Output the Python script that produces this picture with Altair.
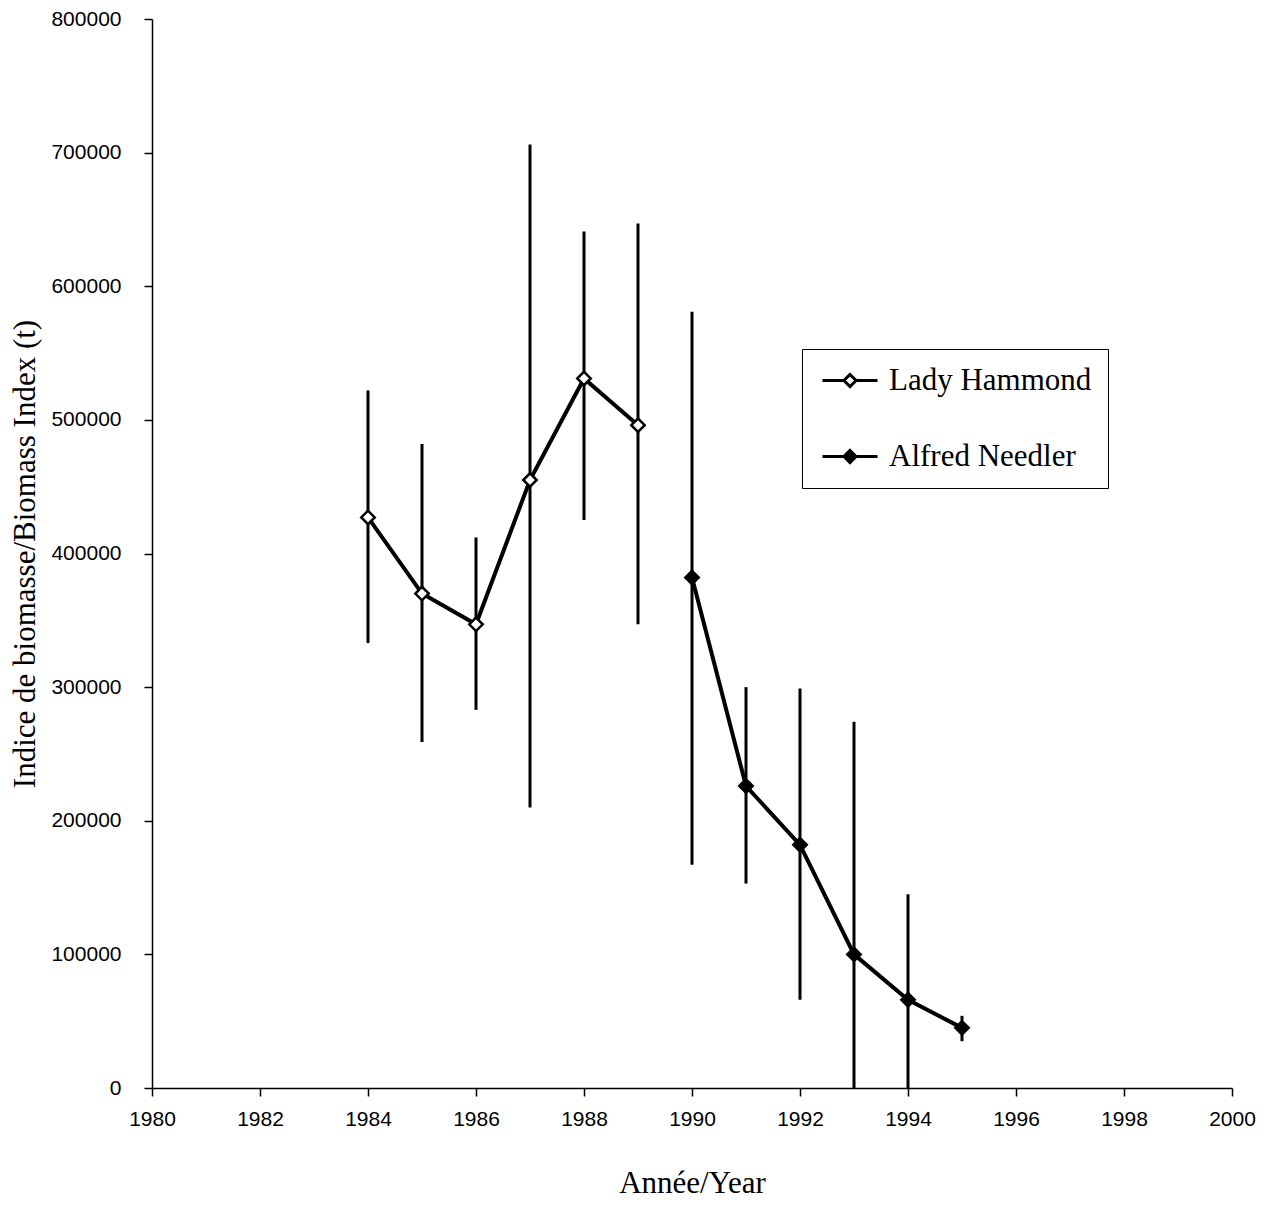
import altair as alt
import pandas as pd

series_names = ["Lady Hammond", "Alfred Needler"]

years_lh = [1984, 1985, 1986, 1987, 1988, 1989]
lh_index = [427000, 370000, 347000, 455000, 531000, 496000]
lh_low = [333000, 259000, 283000, 210000, 425000, 347000]
lh_high = [522000, 482000, 412000, 706000, 641000, 647000]

years_an = [1990, 1991, 1992, 1993, 1994, 1995]
an_index = [382000, 226000, 182000, 100000, 66000, 45000]
an_low = [167000, 153000, 66000, 0, 0, 35000]
an_high = [581000, 300000, 299000, 274000, 145000, 54000]

x_ticks = list(range(1980, 2001, 2))
y_ticks = list(range(0, 800001, 100000))

rows = []
for yr, v, lo, hi in zip(years_lh, lh_index, lh_low, lh_high):
    rows.append({"year": yr, "index": v, "lo": lo, "hi": hi, "series": series_names[0]})
for yr, v, lo, hi in zip(years_an, an_index, an_low, an_high):
    rows.append({"year": yr, "index": v, "lo": lo, "hi": hi, "series": series_names[1]})
df = pd.DataFrame(rows)

xscale = alt.Scale(domain=[1980, 2000], nice=False, zero=False)
yscale = alt.Scale(domain=[0, 800000], nice=False)

xaxis = alt.Axis(values=x_ticks, format="d", title="Année/Year", labelFlush=False,
                 labelOverlap=False, tickSize=8, labelPadding=12, titlePadding=39)
yaxis = alt.Axis(values=y_ticks, format="d", title="Indice de biomasse/Biomass Index (t)",
                 labelOverlap=False, tickSize=8, labelPadding=23, titlePadding=9)

base = alt.Chart(df)

bars = base.mark_rule(color="black", strokeWidth=3).encode(
    x=alt.X("year:Q", scale=xscale, axis=xaxis),
    y=alt.Y("lo:Q", scale=yscale, axis=yaxis),
    y2="hi:Q",
)

line = base.mark_line(color="black", strokeWidth=4).encode(
    x=alt.X("year:Q", scale=xscale),
    y=alt.Y("index:Q", scale=yscale),
    detail="series:N",
)

legend_path = "M-1,0H1M2,0H4M1.5,-0.55L2.05,0L1.5,0.55L0.95,0Z"

points = base.mark_point(shape="diamond", filled=True, size=180, stroke="black",
                         strokeWidth=2.5, opacity=1).encode(
    x=alt.X("year:Q", scale=xscale),
    y=alt.Y("index:Q", scale=yscale),
    fill=alt.Fill("series:N",
                  scale=alt.Scale(domain=series_names, range=["white", "black"]),
                  legend=alt.Legend(title=None, orient="none", legendX=650, legendY=330,
                                    symbolType=legend_path, symbolSize=484,
                                    symbolStrokeColor="black", symbolStrokeWidth=3,
                                    symbolOpacity=1,
                                    labelFont="Liberation Serif", labelFontSize=31,
                                    labelColor="black", labelOffset=40, rowPadding=44,
                                    labelLimit=400,
                                    padding=16, strokeColor="black", fillColor="white")),
)

chart = alt.layer(bars, line, points).properties(
    width=1080,
    height=1069,
    autosize=alt.AutoSizeParams(type="none"),
    padding={"left": 144, "top": 11, "right": 29, "bottom": 112},
).configure_view(stroke=None).configure_axis(
    domainColor="black", domainWidth=1.5, tickColor="black", tickWidth=1.5,
    grid=False, labelFont="Liberation Sans", labelFontSize=21, labelColor="black",
    titleFont="Liberation Serif", titleFontSize=31, titleFontWeight="normal",
    titleColor="black",
)

chart.save("out.html", embed_options={"renderer": "svg", "actions": False})
